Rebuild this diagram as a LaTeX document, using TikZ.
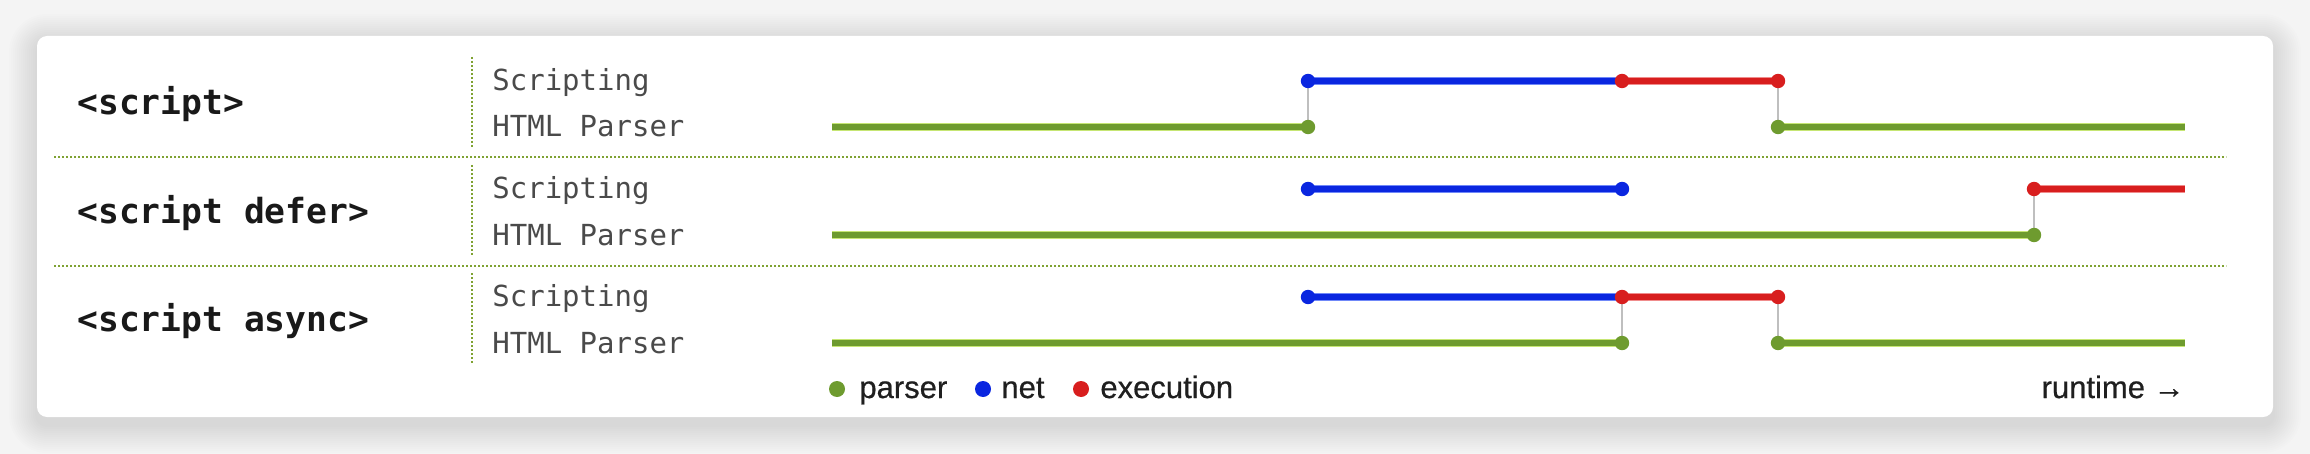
\documentclass[tikz,border=0pt]{standalone}
\usepackage{fontspec}
\setmainfont{Liberation Sans}
\newfontfamily\monofont{DejaVu Sans Mono}
\newfontfamily\keyfont{Liberation Sans}[FakeBold=0.6]

\definecolor{pagegray}{HTML}{F4F4F4}
\definecolor{parsergreen}{HTML}{6E9B2F}
\definecolor{parserlight}{HTML}{C6E674}
\definecolor{netblue}{HTML}{0A26E0}
\definecolor{netlight}{HTML}{7088F8}
\definecolor{execred}{HTML}{D81E1E}
\definecolor{execlight}{HTML}{F08C8C}
\definecolor{sepgreen}{HTML}{7FA232}
\definecolor{lanegray}{HTML}{4A4A4A}

\tikzset{
    tag/.style = {anchor=base west, inner sep=0pt, text=black!90,
        font=\monofont\bfseries\fontsize{17.3pt}{20pt}\selectfont},
    lane/.style = {anchor=base west, inner sep=0pt, text=lanegray,
        font=\monofont\fontsize{14.5pt}{17pt}\selectfont},
    key/.style = {anchor=base west, inner sep=0pt, text=black!88,
        font=\keyfont\fontsize{15.5pt}{18pt}\selectfont},
    sep/.style = {draw=sepgreen, line width=1.4pt, dash pattern=on 1.2pt off 0.8pt},
    hop/.style = {draw=black!25, line width=1pt},
    parserline/.style = {draw=parserlight, line width=0.8pt, double=parsergreen, double distance=2.8pt},
    netline/.style = {draw=netlight, line width=0.6pt, double=netblue, double distance=3pt},
    execline/.style = {draw=execlight, line width=0.6pt, double=execred, double distance=3pt},
}

\begin{document}
\begin{tikzpicture}[x=0.5pt,y=-0.5pt]
\useasboundingbox (0,0) rectangle (2310,454);
\fill[pagegray] (0,0) rectangle (2310,454);
% soft shadow under the card
\foreach \g in {2,4,...,28}
    \fill[black, opacity=0.0095, rounded corners=5pt+0.5*\g pt]
        (37-\g,42-\g) rectangle (2273+\g,425+\g);
\fill[white, rounded corners=5pt] (37,36) rectangle (2273,417);

\draw[sep] (54,157) -- (2226,157);
\draw[sep] (54,266) -- (2226,266);

\begin{scope}
\node[tag] (tag) at (77,115) {<script>};
\node[lane] (scr) at (492,90.5) {Scripting};
\node[lane] (par) at (492,137) {HTML Parser};
\draw[sep] (472,57) -- (472,148);
\coordinate (a) at (832,127);
\coordinate (b) at (1308,127);
\coordinate (c) at (1308,81);
\coordinate (d) at (1622,81);
\coordinate (e) at (1778,81);
\coordinate (f) at (1778,127);
\coordinate (g) at (2185,127);
\draw[hop] (b) -- (c);
\draw[hop] (e) -- (f);
\draw[parserline] (a) -- (b);
\draw[parserline] (f) -- (g);
\draw[netline] (c) -- (d);
\draw[execline] (d) -- (e);
\fill[parsergreen] (b) circle[radius=3.6pt] (f) circle[radius=3.6pt];
\fill[netblue] (c) circle[radius=3.6pt];
\fill[execred] (d) circle[radius=3.6pt] (e) circle[radius=3.6pt];
\end{scope}

\begin{scope}[yshift=-54pt]
\node[tag] (tag) at (77,115) {<script defer>};
\node[lane] (scr) at (492,90.5) {Scripting};
\node[lane] (par) at (492,137) {HTML Parser};
\draw[sep] (472,57) -- (472,148);
\coordinate (a) at (832,127);
\coordinate (b) at (2034,127);
\coordinate (c) at (2034,81);
\coordinate (d) at (2185,81);
\coordinate (n0) at (1308,81);
\coordinate (n1) at (1622,81);
\draw[hop] (b) -- (c);
\draw[parserline] (a) -- (b);
\draw[netline] (n0) -- (n1);
\draw[execline] (c) -- (d);
\fill[parsergreen] (b) circle[radius=3.6pt];
\fill[netblue] (n0) circle[radius=3.6pt] (n1) circle[radius=3.6pt];
\fill[execred] (c) circle[radius=3.6pt];
\end{scope}

\begin{scope}[yshift=-108pt]
\node[tag] (tag) at (77,115) {<script async>};
\node[lane] (scr) at (492,90.5) {Scripting};
\node[lane] (par) at (492,137) {HTML Parser};
\draw[sep] (472,57) -- (472,148);
\coordinate (a) at (832,127);
\coordinate (b) at (1622,127);
\coordinate (c) at (1622,81);
\coordinate (n0) at (1308,81);
\coordinate (e) at (1778,81);
\coordinate (f) at (1778,127);
\coordinate (g) at (2185,127);
\draw[hop] (b) -- (c);
\draw[hop] (e) -- (f);
\draw[parserline] (a) -- (b);
\draw[parserline] (f) -- (g);
\draw[netline] (n0) -- (c);
\draw[execline] (c) -- (e);
\fill[parsergreen] (b) circle[radius=3.6pt] (f) circle[radius=3.6pt];
\fill[netblue] (n0) circle[radius=3.6pt];
\fill[execred] (c) circle[radius=3.6pt] (e) circle[radius=3.6pt];
\end{scope}

% legend
\fill[parsergreen] (837,389) circle[radius=4pt];
\node[key] (kparser) at (859,398) {parser};
\fill[netblue] (983,389) circle[radius=4pt];
\node[key] (knet) at (1001,398) {net};
\fill[execred] (1081,389) circle[radius=4pt];
\node[key] (kexec) at (1100,398) {execution};
\node[key, anchor=base east] (runtime) at (2185,398) {runtime →};
\end{tikzpicture}
\end{document}
